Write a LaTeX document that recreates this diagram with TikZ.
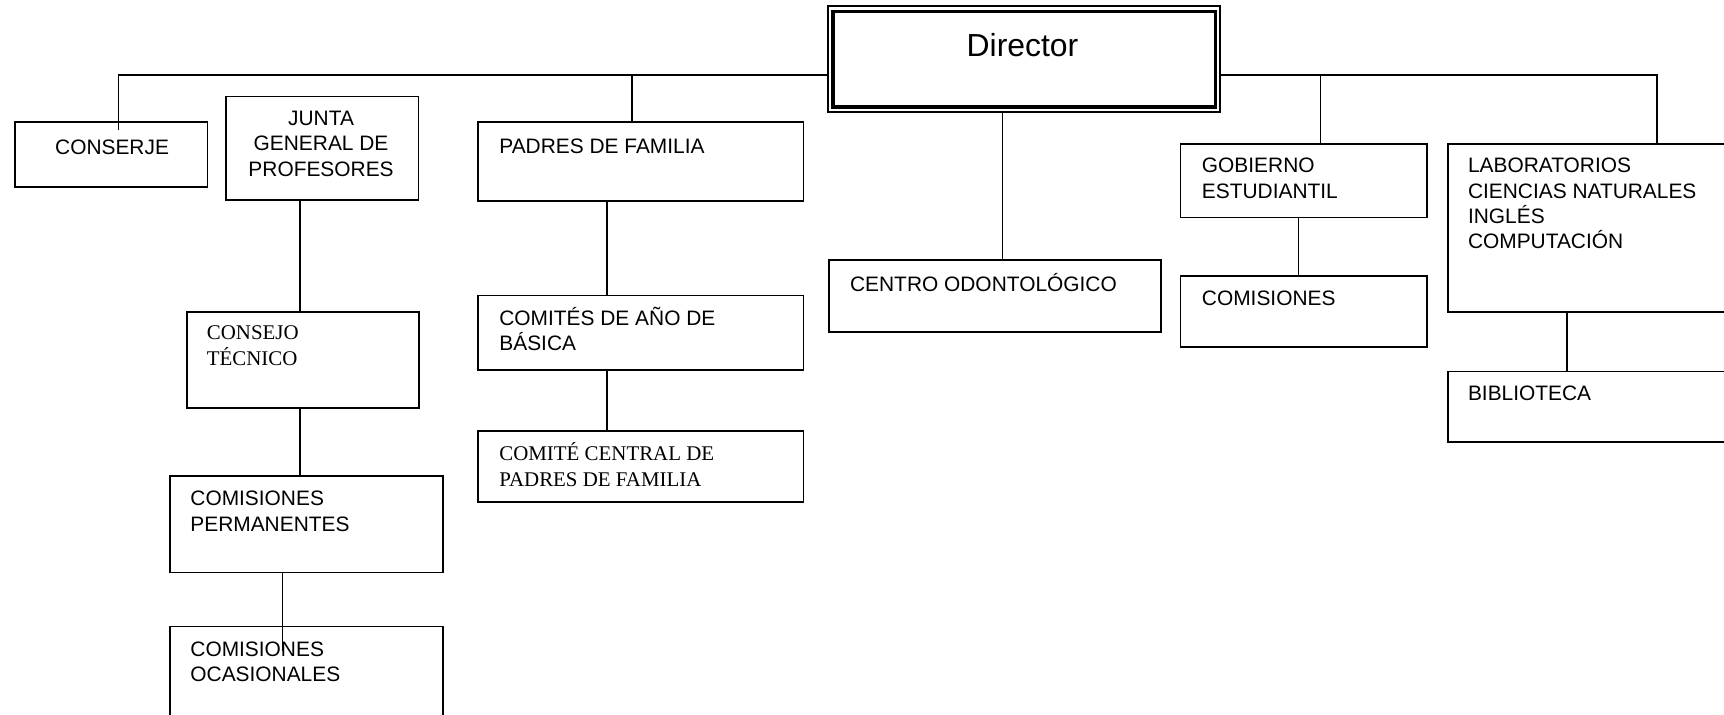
\documentclass[tikz,border=0pt]{standalone}
\usepackage{fontspec}
\setmainfont{Liberation Sans}
\newfontfamily\timesf{Liberation Serif}
\usetikzlibrary{calc}
\newcommand{\tstr}{\rule{0pt}{19.8pt}}
\begin{document}
\begin{tikzpicture}[x=1.0995pt,y=-1.0995pt,
  box/.style={draw, line width=1.7pt, rectangle, inner sep=0pt, anchor=north west},
  txt/.style={anchor=north west, inner sep=0pt, align=left, font=\fontsize{20.9}{25.3}\selectfont},
  ttxt/.style={txt, font=\timesf\fontsize{20.9}{26}\selectfont},
  conn/.style={draw, line width=1.5pt}]
\useasboundingbox (0,0) rectangle (1568,649.4);
% Director
\node[box, line width=2pt, minimum width=392.5pt, minimum height=105.5pt] (dir) at (752,5) {};
\draw[line width=3.4pt] ($(dir.north west)+(5.5,5.5)$) rectangle ($(dir.south east)+(-5.5,-5.5)$);
\node[anchor=base, inner sep=0pt, font=\fontsize{31.9}{36}\selectfont] (dirt) at (930,51) {Director};
% boxes
\node[box, minimum width=192.4pt, minimum height=64.9pt] (conserje) at (13,110) {};
\node[txt] (conserjet) at (50,122) {\tstr CONSERJE};
\node[box, minimum width=192.4pt, minimum height=103.4pt] (junta) at (205,87) {};
\node[txt, anchor=north, align=center] (juntat) at (292,96) {\tstr JUNTA\\GENERAL DE\\PROFESORES};
\node[box, minimum width=232pt, minimum height=95.7pt] (consejo) at (169,283) {};
\node[ttxt] (consejot) at (188,291) {\tstr CONSEJO\\TÉCNICO};
\node[box, minimum width=272.7pt, minimum height=96.8pt] (perm) at (154,432) {};
\node[txt] (permt) at (173,442) {\tstr COMISIONES\\PERMANENTES};
\node[box, minimum width=272.7pt, minimum height=180pt] (ocas) at (154,569) {};
\node[txt] (ocast) at (173,579) {\tstr COMISIONES\\OCASIONALES};
\node[box, minimum width=325.5pt, minimum height=79.2pt] (padres) at (434,110) {};
\node[txt] (padrest) at (454,121) {\tstr PADRES DE FAMILIA};
\node[box, minimum width=325.5pt, minimum height=74.8pt] (comites) at (434,268) {};
\node[txt] (comitest) at (454,278) {\tstr COMITÉS DE AÑO DE\\BÁSICA};
\node[box, minimum width=325.5pt, minimum height=71.5pt] (central) at (434,391) {};
\node[ttxt] (centralt) at (454,401) {\tstr COMITÉ CENTRAL DE\\PADRES DE FAMILIA};
\node[box, minimum width=332pt, minimum height=71.5pt] (centro) at (753,236) {};
\node[txt] (centrot) at (773,247) {\tstr CENTRO ODONTOLÓGICO};
\node[box, minimum width=246.3pt, minimum height=73.7pt] (gob) at (1073,130) {};
\node[txt] (gobt) at (1093,139) {\tstr GOBIERNO\\ESTUDIANTIL};
\node[box, minimum width=246.3pt, minimum height=71.5pt] (comis) at (1073,250) {};
\node[txt] (comist) at (1093,260) {\tstr COMISIONES};
\node[box, minimum width=300pt, minimum height=168.2pt] (lab) at (1316,130) {};
\node[txt] (labt) at (1335,139) {\tstr LABORATORIOS\\CIENCIAS NATURALES\\INGLÉS\\COMPUTACIÓN};
\node[box, minimum width=300pt, minimum height=70.4pt] (bib) at (1316,337) {};
\node[txt] (bibt) at (1335,346) {\tstr BIBLIOTECA};
% connectors
\coordinate (busL) at (108,68);
\coordinate (busR) at (1507,68);
\coordinate (jp) at (575,68);
\coordinate (jg) at (1201,68);
\draw[conn] (dir.west |- busL) -- (busL) -- ($(busL |- conserje.north)+(0,8)$);
\draw[conn] (jp) -- (jp |- padres.north);
\draw[conn] (dir.east |- busR) -- (busR) -- (busR |- lab.north);
\draw[conn] (jg) -- (jg |- gob.north);
\draw[conn] (dir.south -| 912,0) -- (centro.north -| 912,0);
\draw[conn] (junta.south -| 273,0) -- (consejo.north -| 273,0);
\draw[conn] (consejo.south -| 273,0) -- (perm.north -| 273,0);
\draw[conn] (perm.south -| 257,0) -- ($(ocas.north -| 257,0)+(0,23)$);
\draw[conn] (padres.south -| 552,0) -- (comites.north -| 552,0);
\draw[conn] (comites.south -| 552,0) -- (central.north -| 552,0);
\draw[conn] (gob.south -| 1181,0) -- (comis.north -| 1181,0);
\draw[conn] (lab.south -| 1425,0) -- (bib.north -| 1425,0);
\end{tikzpicture}
\end{document}
